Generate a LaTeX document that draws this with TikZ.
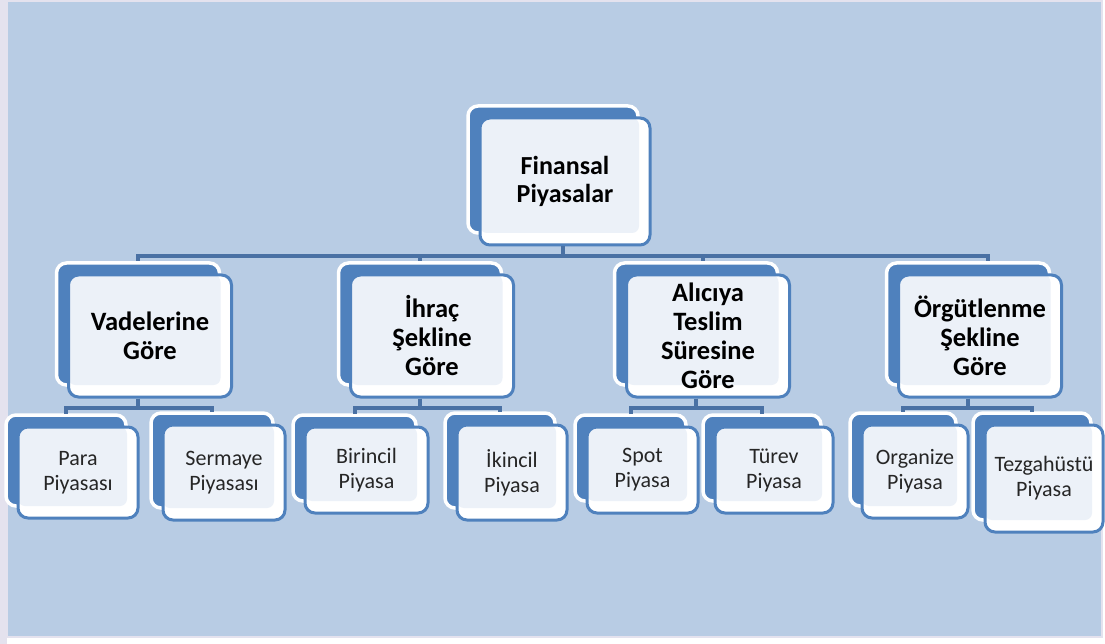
\documentclass[tikz,border=0pt]{standalone}
\usepackage{fontspec}
\setmainfont{Carlito}
\usepackage{tikz}
\usetikzlibrary{shadows,positioning}

\definecolor{canvasblue}{HTML}{B8CCE4}
\definecolor{nodeblue}{HTML}{4F81BD}
\definecolor{cardfill}{HTML}{ECF1F8}
\definecolor{linkblue}{HTML}{4A71A4}
\definecolor{rimgray}{HTML}{E4E2EE}

\begin{document}
\begin{tikzpicture}[x=1pt,y=-1pt,
  box/.style={draw=nodeblue,line width=3pt,fill=white,rounded corners=10pt,align=center,inner sep=0pt,
    general shadow={shadow xshift=-12pt,shadow yshift=12pt,fill=nodeblue,draw=white,line width=3.5pt},
    path picture={\fill[cardfill,rounded corners=7pt]([yshift=12pt]path picture bounding box.south west)
      rectangle ([xshift=-11pt]path picture bounding box.north east);}},
  topbox/.style={box,minimum width=170pt,minimum height=127pt,font=\bfseries\fontsize{26}{28}\selectfont},
  midbox/.style={box,minimum width=163pt,minimum height=122pt,font=\bfseries\fontsize{26.5}{29}\selectfont},
  leafbox/.style={box,font=\fontsize{22}{25}\selectfont,text=black!85},
  link/.style={draw=linkblue,line width=4pt}]
  \useasboundingbox (0,0) rectangle (1105,644);
  \fill[white] (0,0) rectangle (1105,644);
  \fill[rimgray] (0,0) rectangle (7,644);
  \filldraw[fill=canvasblue,draw=rimgray,line width=1.5pt] (7,1) rectangle (1102,637);

  \node[topbox](root) at (565,181.5){Finansal\\Piyasalar};
  \node[midbox](vade) at (150,336){Vadelerine\\Göre};
  \node[midbox](ihrac) at (432,336){İhraç\\Şekline\\Göre};
  \node[midbox](alici) at (708,336){Alıcıya\\Teslim\\Süresine\\Göre};
  \node[midbox](orgut) at (980,336){Örgütlenme\\Şekline\\Göre};

  \node[leafbox,minimum width=120pt,minimum height=91pt](para) at (78,472.5){Para\\Piyasası};
  \node[leafbox,minimum width=122pt,minimum height=95pt](serm) at (224,472.5){Sermaye\\Piyasası};
  \node[leafbox,minimum width=123pt,minimum height=86pt](birin) at (366.5,470){Birincil\\Piyasa};
  \node[leafbox,minimum width=110pt,minimum height=95pt](ikin) at (512,472.5){İkincil\\Piyasa};
  \node[leafbox,minimum width=111pt,minimum height=86pt](spot) at (642.5,470){Spot\\Piyasa};
  \node[leafbox,minimum width=118pt,minimum height=86pt](turev) at (774,470){Türev\\Piyasa};
  \node[leafbox,minimum width=106pt,minimum height=93pt](organ) at (915,471.5){Organize\\Piyasa};
  \node[leafbox,minimum width=118pt,minimum height=107pt](tezg) at (1044,478.5){Tezgahüstü\\Piyasa};

  % root to the four groups
  \draw[link]([xshift=-2pt]root.south)--++(0,10)-|([xshift=-12pt,yshift=12pt]vade.north);
  \draw[link]([xshift=-2pt]root.south)--++(0,10)-|([xshift=-12pt,yshift=12pt]ihrac.north);
  \draw[link]([xshift=-2pt]root.south)--++(0,10)-|([xshift=-5pt,yshift=12pt]alici.north);
  \draw[link]([xshift=-2pt]root.south)--++(0,10)-|([xshift=8pt,yshift=12pt]orgut.north);
  % groups to markets
  \draw[link]([xshift=-12pt]vade.south)--++(0,9)-|([xshift=-12pt,yshift=12pt]para.north);
  \draw[link]([xshift=-12pt]vade.south)--++(0,9)-|([xshift=-12pt,yshift=12pt]serm.north);
  \draw[link]([xshift=-12pt]ihrac.south)--++(0,9)-|([xshift=-12pt,yshift=12pt]birin.north);
  \draw[link]([xshift=-12pt]ihrac.south)--++(0,9)-|([xshift=-12pt,yshift=12pt]ikin.north);
  \draw[link]([xshift=-12pt]alici.south)--++(0,9)-|([xshift=-12pt,yshift=12pt]spot.north);
  \draw[link]([xshift=-12pt]alici.south)--++(0,9)-|([xshift=-12pt,yshift=12pt]turev.north);
  \draw[link]([xshift=-12pt]orgut.south)--++(0,9)-|([xshift=-12pt,yshift=12pt]organ.north);
  \draw[link]([xshift=-12pt]orgut.south)--++(0,9)-|([xshift=-12pt,yshift=12pt]tezg.north);
\end{tikzpicture}
\end{document}
